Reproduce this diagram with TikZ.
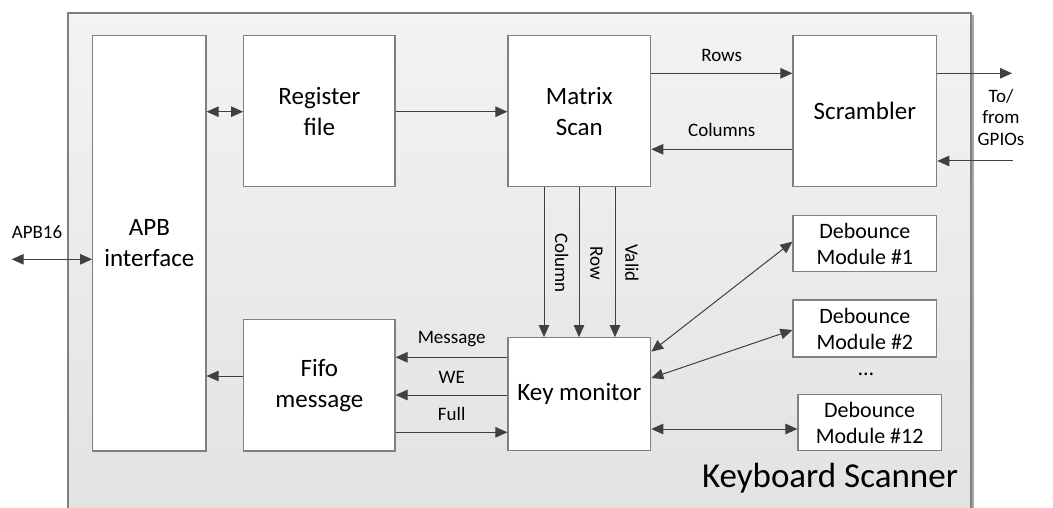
\documentclass[tikz,border=0pt]{standalone}
\usepackage{fontspec}
\setmainfont{Carlito}
\usetikzlibrary{arrows.meta,calc}
\definecolor{boxline}{HTML}{808080}
\definecolor{arrline}{HTML}{404040}
\definecolor{bgtop}{HTML}{F3F3F3}
\definecolor{bgbot}{HTML}{E2E2E2}
\begin{document}
\begin{tikzpicture}[x=1pt,y=-1pt,
  blk/.style={draw=boxline,line width=1.2pt,fill=white,rectangle,inner sep=0pt,align=center,font=\fontsize{25}{31}\selectfont},
  dblk/.style={blk,font=\fontsize{22}{26}\selectfont},
  conn/.style={draw=arrline,line width=1pt,-{Triangle[length=12pt,width=10.5pt]}},
  bconn/.style={draw=arrline,line width=1pt,{Triangle[length=12pt,width=10.5pt]}-{Triangle[length=12pt,width=10.5pt]}},
  lbl/.style={font=\fontsize{19}{21}\selectfont,inner sep=0pt}]
\useasboundingbox (0,0) rectangle (1053,508);
% outer container
\path[top color=bgtop,bottom color=bgbot] (68,13) rectangle (971,520);
\draw[boxline,line width=1.2pt] (68,520) -- (68,13) -- (971,13) -- (971,520);
\draw[boxline!70,line width=1.5pt] (973,15) -- (973,520);
% blocks
\node[blk,minimum width=113.3pt,minimum height=415.3pt] (apb) at (149.35,243.35) {APB\\interface};
\node[blk,minimum width=151.3pt,minimum height=151pt] (reg) at (319.35,111.2) {Register\\file};
\node[blk,minimum width=142.7pt,minimum height=151pt] (mat) at (579.35,111.2) {Matrix\\Scan};
\node[blk,minimum width=143.7pt,minimum height=151pt] (scr) at (864.85,111.2) {Scrambler};
\node[blk,minimum width=151.3pt,minimum height=131.7pt] (fifo) at (319.35,385.15) {Fifo\\message};
\node[blk,minimum width=142.7pt,minimum height=113pt] (key) at (579.35,394.2) {Key monitor};
\node[dblk,minimum width=143.7pt,minimum height=56.4pt] (d1) at (864.85,243.5) {Debounce\\Module \#1};
\node[dblk,minimum width=143.7pt,minimum height=57pt] (d2) at (864.85,328.5) {Debounce\\Module \#2};
\node[dblk,minimum width=143.3pt,minimum height=56pt] (d12) at (869.65,422.7) {Debounce\\Module \#12};
\node[font=\fontsize{22}{26}\selectfont,inner sep=0pt] (dots) at (866,374) {\dots};
\node[font=\fontsize{35}{40}\selectfont,inner sep=0pt] (title) at (830,478) {Keyboard Scanner};
% free ends
\coordinate (apbL) at (11.7,259.3);
\coordinate (gpA) at (1012,73.3);
\coordinate (gpB) at (1013,161);
% connectors
\draw[bconn] (apbL) -- (apb.west |- apbL);
\node[lbl] (apblbl) at (37,232) {APB16};
\draw[bconn] (apb.east |- 0,111.7) -- (reg.west |- 0,111.7);
\draw[conn] (reg.east |- 0,111.7) -- (mat.west |- 0,111.7);
\draw[conn] (mat.east |- 0,73.3) -- (scr.west |- 0,73.3);
\node[lbl] (rows) at (721.7,55) {Rows};
\draw[conn] (scr.west |- 0,149.3) -- (mat.east |- 0,149.3);
\node[lbl] (cols) at (721.7,130) {Columns};
\draw[conn] (scr.east |- gpA) -- (gpA);
\draw[conn] (gpB) -- (scr.east |- gpB);
\node[lbl,align=center,font=\fontsize{19}{21.5}\selectfont] (gpio) at (1001,117) {To/\\from\\GPIOs};
% vertical
\draw[conn] (mat.south -| 544,0) -- (key.north -| 544,0);
\draw[conn] (mat.south -| 579,0) -- (key.north -| 579,0);
\draw[conn] (mat.south -| 615,0) -- (key.north -| 615,0);
\node[lbl,rotate=-90] (colL) at (561.7,263) {Column};
\node[lbl,rotate=-90] (rowL) at (596.5,263) {Row};
\node[lbl,rotate=-90] (valL) at (632,263) {Valid};
% key to fifo
\draw[conn] (key.west |- 0,357.3) -- (fifo.east |- 0,357.3);
\node[lbl] (msg) at (451.7,339) {Message};
\draw[conn] (key.west |- 0,395) -- (fifo.east |- 0,395);
\node[lbl] (we) at (451.7,377) {WE};
\draw[conn] (fifo.east |- 0,432.3) -- (key.west |- 0,432.3);
\node[lbl] (full) at (451.7,414) {Full};
\draw[conn] (fifo.west |- 0,376) -- (apb.east |- 0,376);
% key to debounce
\draw[bconn] (key.east |- 0,351.7) -- (d1.west |- 0,241.7);
\draw[bconn] (key.east |- 0,378) -- (d2.west |- 0,330);
\draw[bconn] (key.east |- 0,429) -- (d12.west |- 0,429);
\end{tikzpicture}
\end{document}
